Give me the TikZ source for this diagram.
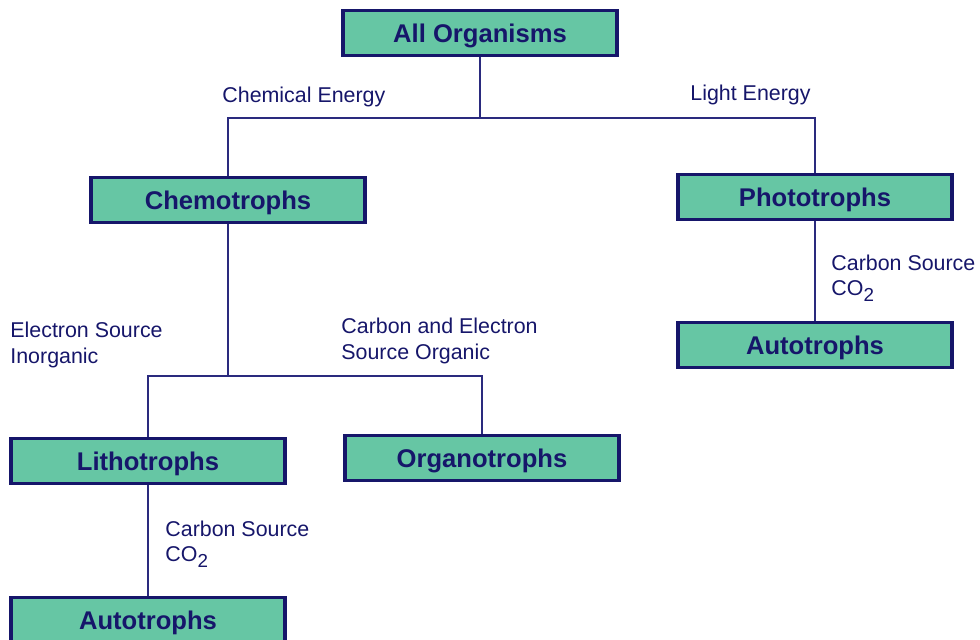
\documentclass[tikz,border=0pt]{standalone}
\usepackage{fontspec}
\setmainfont{Liberation Sans}
\definecolor{boxgreen}{HTML}{66C6A4}
\definecolor{navy}{HTML}{16166A}
\definecolor{linenavy}{HTML}{2A2A7E}
\newcommand{\subtwo}{\raisebox{-2.8pt}{\fontsize{9.4}{10}\selectfont 2}}
\tikzset{
  taxon/.style={draw=navy, line width=1.8pt, fill=boxgreen, text=navy,
    minimum width=137pt, minimum height=22.5pt, inner sep=0pt,
    text height=9.2pt, text depth=0pt,
    font=\fontsize{12.8}{14}\selectfont\bfseries},
  route/.style={draw=linenavy, line width=0.9pt},
  note/.style={text=navy, align=left, anchor=west, inner sep=0pt,
    font=\fontsize{10.7}{12.6}\selectfont}
}
\begin{document}
\begin{tikzpicture}[x=0.5pt, y=-0.5pt]
    \useasboundingbox (0,0) rectangle (980,639);
    \clip (0,0) rectangle (980,639);
    \path   node[taxon] (all) at (480, 33) {All Organisms}
            node[taxon] (chemo) at (228, 200) {Chemotrophs}
            node[taxon] (photo) at (815, 197) {Phototrophs}
            node[taxon] (autoR) at (815, 345) {Autotrophs}
            node[taxon] (litho) at (148, 461) {Lithotrophs}
            node[taxon] (organo) at (482, 458) {Organotrophs}
            node[taxon] (autoL) at (148, 620) {Autotrophs};
    \coordinate (top) at (480, 118);
    \coordinate (mid) at (228, 376);
    % energy split
    \draw[route] (all.south) -- (top);
    \draw[route] (chemo.north) |- (top) -| (photo.north);
    \draw[route] (photo.south) -- (autoR.north);
    % electron source split
    \draw[route] (chemo.south) -- (mid);
    \draw[route] (litho.north) |- (mid) -| (organo.north);
    \draw[route] (litho.south) -- (autoL.north);
    % labels
    \path   node[note] (chemE) at (222, 97) {Chemical Energy}
            node[note] (lightE) at (690, 95) {Light Energy}
            node[note] (carbR) at (831, 278) {Carbon Source\\CO\subtwo}
            node[note] (elec) at (10, 345) {Electron Source\\Inorganic}
            node[note] (carbO) at (341, 341) {Carbon and Electron\\Source Organic}
            node[note] (carbL) at (165, 544) {Carbon Source\\CO\subtwo}
            ;
\end{tikzpicture}
\end{document}
